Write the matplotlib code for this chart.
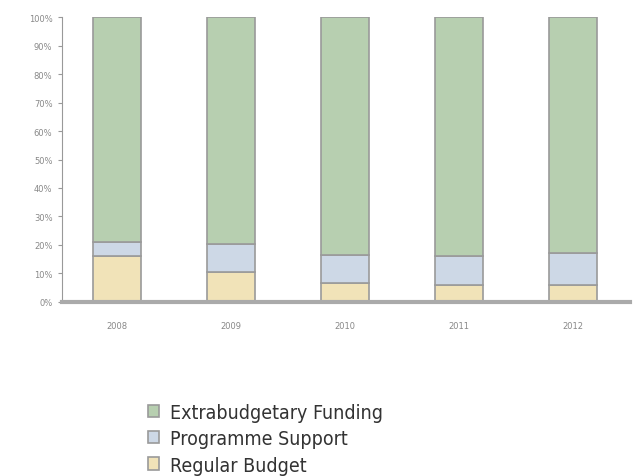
import matplotlib.pyplot as plt
import numpy as np

years = ["2008", "2009", "2010", "2011", "2012"]
regular_budget = [16, 10.5, 6.5, 6, 6]
programme_support = [5, 10, 10, 10, 11]
extrabudgetary = [79, 79.5, 83.5, 84, 83]
y_ticks = [0, 10, 20, 30, 40, 50, 60, 70, 80, 90, 100]

fig = plt.figure(figsize=(6.41, 4.77), dpi=100)
ax = fig.add_axes([0.097, 0.365, 0.886, 0.597])

x = np.arange(len(years))
width = 0.42
edge = "#9a9a9a"
rb = np.array(regular_budget)
ps = np.array(programme_support)
eb = np.array(extrabudgetary)

h_rb = ax.bar(x, rb, width, color="#f1e3b8", edgecolor=edge, linewidth=1.2, label="Regular Budget")
h_ps = ax.bar(x, ps, width, bottom=rb, color="#cdd8e6", edgecolor=edge, linewidth=1.2, label="Programme Support")
h_eb = ax.bar(x, eb, width, bottom=rb + ps, color="#b7cfb0", edgecolor=edge, linewidth=1.2, label="Extrabudgetary Funding")

ax.set_xlim(-0.48, 4.5)
ax.set_ylim(0, 100)
ax.set_yticks(y_ticks)
ax.set_yticklabels([f"{v}%" for v in y_ticks], fontsize=6, color="#888888")
ax.set_xticks(x)
ax.set_xticklabels(years, fontsize=6, color="#888888")
ax.tick_params(axis="x", length=0, pad=14)
ax.tick_params(axis="y", length=3, color="#999999", pad=4)

for s in ["top", "right"]:
    ax.spines[s].set_visible(False)
ax.spines["left"].set_color("#999999")
ax.spines["bottom"].set_color("#aaaaaa")
ax.spines["bottom"].set_linewidth(3)

fig.legend([h_eb, h_ps, h_rb], ["Extrabudgetary Funding", "Programme Support", "Regular Budget"],
           loc="upper left", bbox_to_anchor=(0.215, 0.174), frameon=False,
           prop={"family": "DejaVu Sans", "stretch": "condensed", "size": 14},
           labelcolor="#333333", handlelength=0.6, handleheight=0.6,
           handletextpad=0.55, labelspacing=0.38, borderpad=0)

fig.savefig("out.png", dpi=100)
